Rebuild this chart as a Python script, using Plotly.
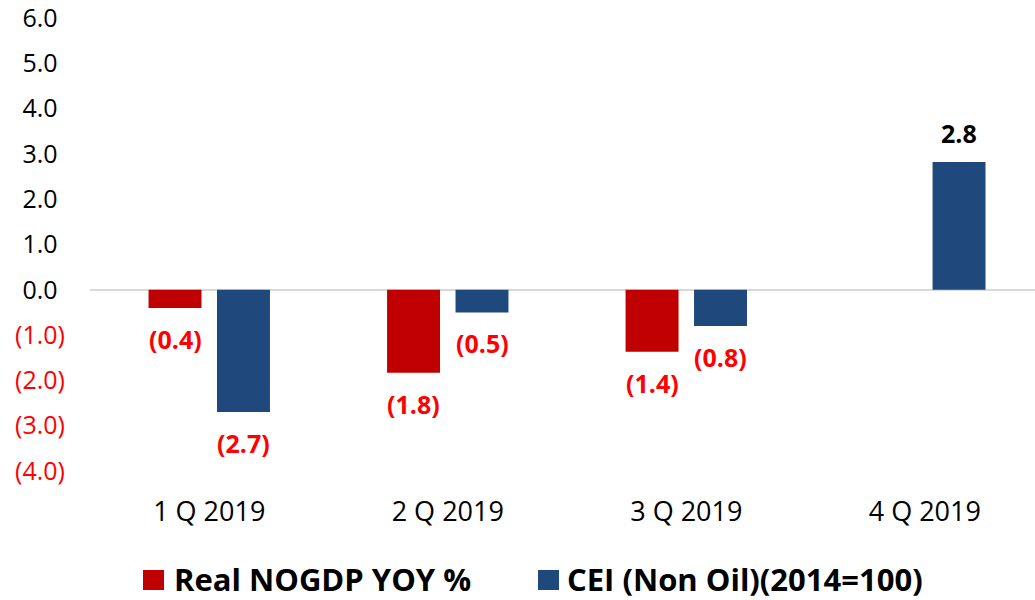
import plotly.graph_objects as go

categories = ["1 Q 2019", "2 Q 2019", "3 Q 2019", "4 Q 2019"]
nogdp = [-0.4, -1.83, -1.37, None]
cei = [-2.7, -0.5, -0.8, 2.82]
series_names = ["Real NOGDP YOY %", "CEI (Non Oil)(2014=100)"]
y_ticks = [6, 5, 4, 3, 2, 1, 0, -1, -2, -3, -4]

RED = "#C00000"
BLUE = "#1F497D"
FONT = "Open Sans"

BAR_W = 0.222
HALF = 0.1435

fig = go.Figure()
for vals, color, name, off in [(nogdp, RED, series_names[0], -HALF), (cei, BLUE, series_names[1], HALF)]:
    fig.add_trace(go.Bar(
        x=categories, y=vals, name=name, marker=dict(color=color, line=dict(width=0)),
        width=BAR_W, offset=off - BAR_W / 2, showlegend=False,
    ))


def fmt(v):
    return f"({abs(v):.1f})" if v < 0 else f"{v:.1f}"


annotations = []
for vals, off in [(nogdp, -HALF), (cei, HALF)]:
    for i, v in enumerate(vals):
        if v is None:
            continue
        annotations.append(dict(
            x=i + off, y=v, xref="x", yref="y", text=f"<b>{fmt(v)}</b>", showarrow=False,
            yanchor="middle", xanchor="center", yshift=-31 if v < 0 else 29,
            font=dict(family=FONT, size=25, color="#FF0000" if v < 0 else "#000000"),
        ))


def tick_label(v):
    if v < 0:
        return f'<span style="color:#FF0000">({abs(v):.1f})</span>'
    return f'{v:.1f}<span style="color:rgba(0,0,0,0)">)</span>'


# body margin is removed in post_script, so the figure sits at the window origin
W, H = 1035, 600
L, R_, T, B = 90, 0, 18, 129
pw, ph = W - L - R_, H - T - B


def px2x(px):
    return (px - L) / pw


def py2y(py):
    return (H - B - py) / ph


shapes = []
for sx, tx, color, name in [(143, 175, RED, series_names[0]),
                            (538, 568, BLUE, series_names[1])]:
    shapes.append(dict(type="rect", xref="paper", yref="paper",
                       x0=px2x(sx), x1=px2x(sx + 21), y0=py2y(590), y1=py2y(570),
                       fillcolor=color, line=dict(width=0)))
    annotations.append(dict(x=px2x(tx), y=py2y(579), xref="paper", yref="paper",
                            text=f"<b>{name}</b>", showarrow=False, xanchor="left", yanchor="middle",
                            xshift=-3, font=dict(family=FONT, size=31, color="#000000")))

fig.update_layout(
    width=W, height=H,
    margin=dict(l=L, r=R_, t=T, b=B),
    plot_bgcolor="white", paper_bgcolor="white",
    font=dict(family=FONT, color="#000000"),
    annotations=annotations, shapes=shapes,
    hovermode=False,
    xaxis=dict(type="category", range=[-0.5, 3.462], showgrid=False, showline=False,
               ticks="", tickfont=dict(size=27, color="#000000"), ticklabelstandoff=22,
               automargin=False),
    yaxis=dict(range=[-4, 6], tickvals=y_ticks, ticktext=[tick_label(v) for v in y_ticks],
               showgrid=False, showline=False, zeroline=True, zerolinecolor="#D9D9D9",
               zerolinewidth=2, ticks="", tickfont=dict(size=25, color="#000000"),
               ticklabelstandoff=24, automargin=False, ticklabeloverflow="allow"),
)

fig.write_html("out.html", config={"displayModeBar": False},
               post_script="document.body.style.margin='0';document.body.style.overflow='hidden';")
